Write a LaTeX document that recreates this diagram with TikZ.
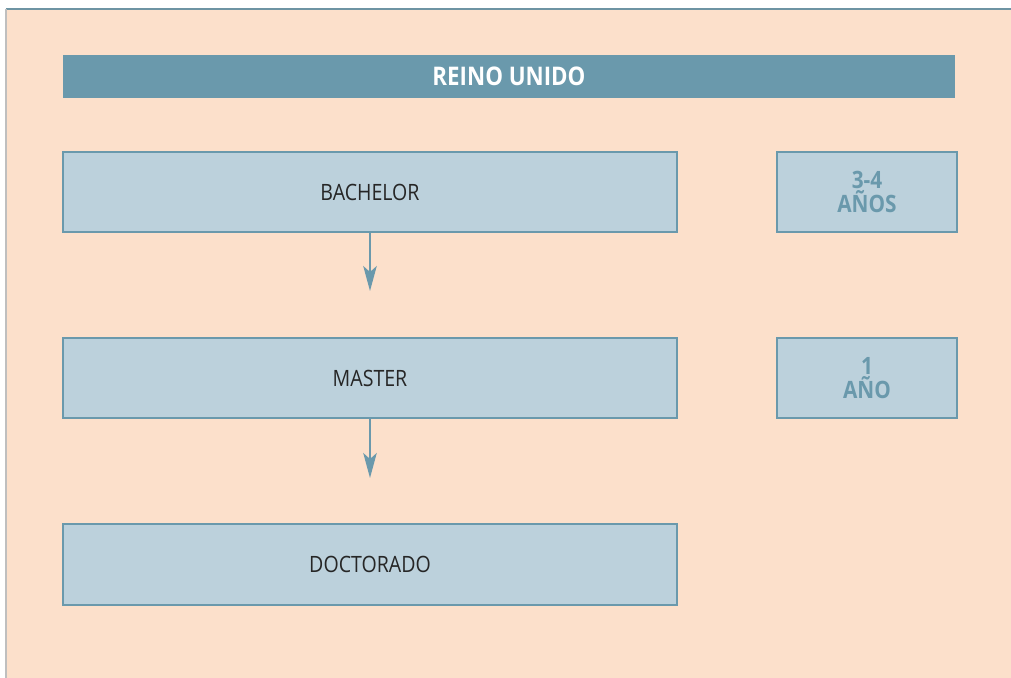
\documentclass[tikz,border=0pt]{standalone}
\usepackage{fontspec}
\setmainfont{Open Sans}[FakeStretch=0.87]
\usepackage{tikz}
\usetikzlibrary{arrows.meta}
\definecolor{peach}{HTML}{FCE0CB}
\definecolor{steel}{HTML}{6A99AC}
\definecolor{pale}{HTML}{BCD1DC}
\definecolor{ink}{HTML}{262626}

\begin{document}
\begin{tikzpicture}[scale=1,
    level/.style={draw=steel, line width=0.6pt, fill=pale, minimum width=12.28cm,
        minimum height=1.6cm, inner sep=0pt, text=ink, font=\fontsize{12.8}{14}\selectfont},
    years/.style={draw=steel, line width=0.6pt, fill=pale, minimum width=3.6cm,
        minimum height=1.6cm, inner sep=0pt, text=steel, align=center,
        font=\fontsize{13.6}{13.6}\selectfont\bfseries},
    link/.style={draw=steel, line width=0.9pt, -{Stealth[length=0.5cm, width=0.27cm, inset=0.12cm]}}]
    \useasboundingbox (0, 0) rectangle (20.22, -13.56);
    \fill[peach] (0.12, -0.18) rectangle (20.22, -13.56);
    \draw[color=steel!80!gray, line width=0.8pt] (0.12, -0.18) -- (20.22, -0.18);
    \draw[color=gray!50, line width=1.2pt] (0.12, -0.18) -- (0.12, -13.56);
    \node[fill=steel, minimum width=17.84cm, minimum height=0.86cm, inner sep=0pt,
        text=white, font=\fontsize{14.6}{16}\selectfont\bfseries] (titulo) at (10.18, -1.53) {REINO UNIDO};
    \node[level] (bachelor) at (7.40, -3.84) {BACHELOR};
    \node[years] (anos1) at (17.34, -3.84) {3-4\\AÑOS};
    \node[level] (master) at (7.40, -7.56) {MASTER};
    \node[years] (anos2) at (17.34, -7.56) {1\\AÑO};
    \node[level, minimum height=1.62cm] (doctorado) at (7.40, -11.29) {DOCTORADO};
    \coordinate (fin1) at (7.40, -5.82);
    \coordinate (fin2) at (7.40, -9.56);
    \draw[link] (bachelor.south) -- (fin1);
    \draw[link] (master.south) -- (fin2);
\end{tikzpicture}
\end{document}
